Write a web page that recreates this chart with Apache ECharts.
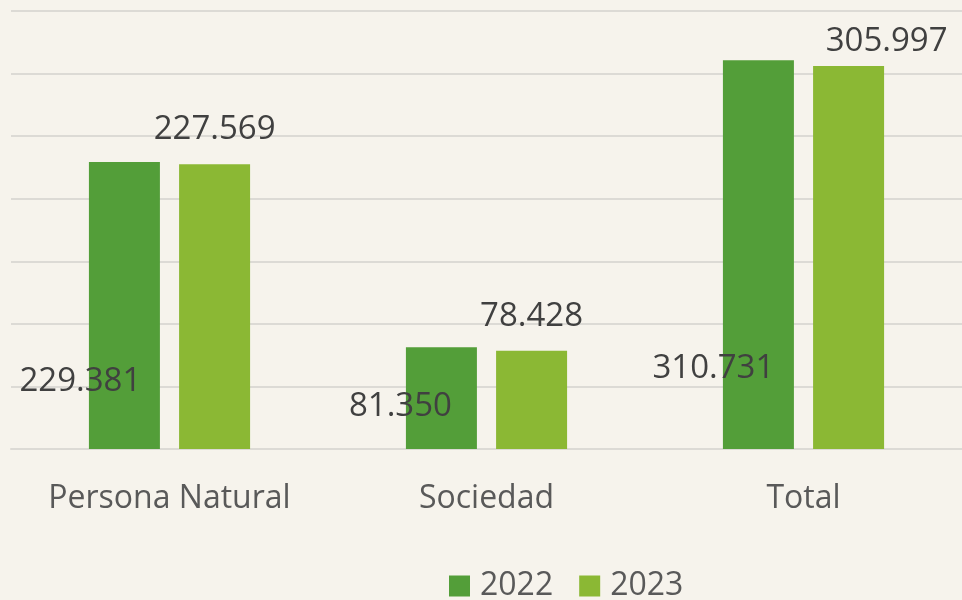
<!DOCTYPE html>
<html>
<head>
<meta charset="utf-8">
<script src="https://cdn.jsdelivr.net/npm/echarts@6/dist/echarts.min.js"></script>
<style>
  html, body { margin: 0; padding: 0; background: #f6f3ec; }
  #chart { width: 962px; height: 600px; }
</style>
</head>
<body>
<div id="chart"></div>
<script>
// datos
const categories = ['Persona Natural', 'Sociedad', 'Total'];
const years = ['2022', '2023'];
const values2022 = [229.381, 81.350, 310.731];
const values2023 = [227.569, 78.428, 305.997];
// etiquetas desplazadas como en el original [dx, dy]
const offsets2022 = [[-44, -46], [-41, -21], [-45, -59]];
const offsets2023 = [[0, -13], [0, -13], [38, -3]];

const fmt = v => v.toFixed(3);

const chart = echarts.init(document.getElementById('chart'));

chart.setOption({
  backgroundColor: '#f6f3ec',
  textStyle: { fontFamily: 'Open Sans' },
  grid: { left: 11, right: -6, top: 11, bottom: 151, containLabel: false },
  legend: {
    data: years,
    bottom: -7,
    left: 444,
    itemWidth: 21, itemHeight: 21, itemGap: 26,
    icon: 'rect',
    textStyle: { fontSize: 32, color: '#595959', fontFamily: 'Open Sans', padding: [0, 0, 0, 5] },
  },
  xAxis: {
    type: 'category',
    data: categories,
    axisLine: { show: true, lineStyle: { color: '#dcdad5', width: 2 } },
    axisTick: { show: false },
    axisLabel: { fontSize: 32, color: '#595959', margin: 34 },
  },
  yAxis: {
    type: 'value',
    min: 0, max: 350, interval: 50,
    axisLabel: { show: false },
    axisLine: { show: false },
    splitLine: { lineStyle: { color: '#dcdad5', width: 2 } },
  },
  series: [
    {
      name: '2022',
      type: 'bar',
      barWidth: 71,
      barGap: '27%',
      itemStyle: { color: '#539e39' },
      data: values2022.map((v, i) => ({
        value: v,
        label: { offset: offsets2022[i] },
      })),
      label: {
        show: true, position: 'insideBottom', distance: 5,
        formatter: p => fmt(p.value),
        fontSize: 33, color: '#404040', fontFamily: 'Open Sans',
      },
    },
    {
      name: '2023',
      type: 'bar',
      barWidth: 71,
      itemStyle: { color: '#8bb834' },
      data: values2023.map((v, i) => ({
        value: v,
        label: { offset: offsets2023[i] },
      })),
      label: {
        show: true, position: 'top', distance: 5,
        formatter: p => fmt(p.value),
        fontSize: 33, color: '#404040', fontFamily: 'Open Sans',
      },
    },
  ],
});
</script>
</body>
</html>
